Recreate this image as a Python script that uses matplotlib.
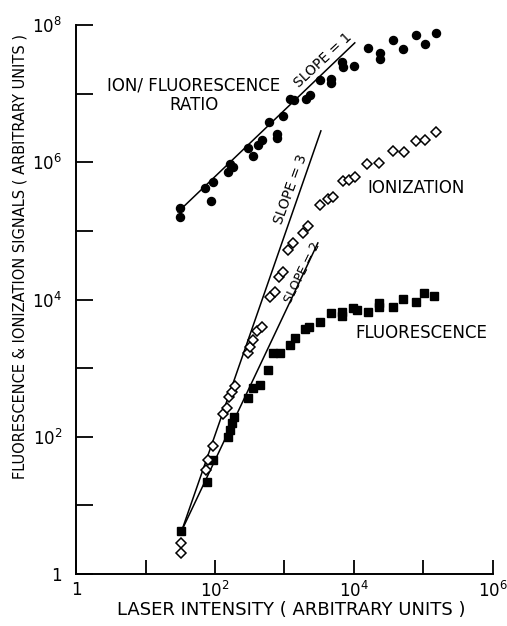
import matplotlib
matplotlib.use("Agg")
import matplotlib.pyplot as plt
import numpy as np

# Ion / fluorescence ratio (filled circles)
ratio_x = [31.4, 31.4, 71.8, 87.6, 93.6, 154, 164, 182, 298, 352, 415, 475, 598, 780, 780,
           951, 1200, 1370, 2040, 2330, 3240, 4670, 4670, 6720, 6950, 10000, 15900, 23700,
           23700, 36400, 50700, 78000, 105000, 151000]
ratio_y = [2.16e5, 1.6e5, 4.24e5, 2.74e5, 5.18e5, 7.24e5, 9.48e5, 8.57e5, 1.62e6, 1.24e6,
           1.79e6, 2.12e6, 3.88e6, 2.59e6, 2.27e6, 4.74e6, 8.4e6, 8.1e6, 8.4e6, 9.6e6,
           1.59e7, 1.64e7, 1.44e7, 2.91e7, 2.46e7, 2.54e7, 4.65e7, 3.94e7, 3.22e7, 6.09e7,
           4.5e7, 7.2e7, 5.32e7, 7.7e7]

# Ionization (open diamonds)
ion_x = [32.4, 32.4, 74.2, 79.3, 93.6, 130, 149, 159, 176, 194, 298, 319, 352, 402, 475,
         618, 730, 834, 951, 1122, 1325, 1845, 2180, 3240, 4225, 4990, 6950, 8470, 10330,
         15400, 22900, 36400, 52400, 78000, 105000, 151000]
ion_y = [2.02, 2.83, 32.8, 45.9, 73.4, 215, 263, 380, 450, 550, 1667, 2037, 2577, 3484, 3990,
         10900, 12900, 21300, 25200, 52800, 66800, 93500, 118000, 239000, 293000, 313000,
         535000, 554000, 613000, 948000, 980000, 1.47e6, 1.42e6, 2.05e6, 2.12e6, 2.77e6]

# Fluorescence (filled squares)
flu_x = [32.4, 76.7, 93.6, 154, 164, 176, 188, 298, 352, 444, 579, 683, 861, 1200, 1416,
         1972, 2253, 3240, 4670, 6720, 6720, 9670, 11040, 15900, 22900, 22900, 36400, 50700,
         78000, 101600, 141600]
flu_y = [4.24, 21.9, 45.9, 99.4, 126, 159, 194, 368, 514, 569, 942, 1667, 1667, 2178, 2754,
         3727, 3990, 4713, 6380, 5768, 6590, 7546, 7050, 6590, 8920, 7800, 7800, 10200, 9220,
         12500, 11300]

# Reference slope lines (endpoints)
slope1_x = [29.4, 10300]
slope1_y = [1.89e5, 5.5e7]
slope3_x = [33.5, 3350]
slope3_y = [4.38, 2.87e6]
slope2_x = [33.5, 3030]
slope2_y = [4.38, 6.68e4]

fig = plt.figure(figsize=(5.07, 6.26), dpi=100)
ax = fig.add_axes([0.150, 0.083, 0.822, 0.877])
ax.set_xscale("log")
ax.set_yscale("log")
ax.set_xlim(1, 1e6)
ax.set_ylim(1, 1e8)

lw = 1.1
ax.plot(slope1_x, slope1_y, color="black", lw=lw)
ax.plot(slope3_x, slope3_y, color="black", lw=lw)
ax.plot(slope2_x, slope2_y, color="black", lw=lw)

ax.plot(ratio_x, ratio_y, "o", color="black", ms=5.8, ls="none")
ax.plot(flu_x, flu_y, "s", color="black", ms=5.8, ls="none")
ax.plot(ion_x, ion_y, "D", mfc="white", mec="black", mew=1.1, ms=5.2, ls="none")

for s in ["top", "right"]:
    ax.spines[s].set_visible(False)
for s in ["left", "bottom"]:
    ax.spines[s].set_linewidth(1.4)

ax.set_xticks([10.0**k for k in range(0, 7)])
ax.set_yticks([10.0**k for k in range(0, 9)])
ax.minorticks_off()
ax.set_xticklabels(["1", "", r"$10^2$", "", r"$10^4$", "", r"$10^6$"])
ax.set_yticklabels(["1", "", r"$10^2$", "", r"$10^4$", "", r"$10^6$", "", r"$10^8$"])
ax.tick_params(direction="in", length=12, width=1.3, labelsize=12, pad=10)
ax.tick_params(axis="x", length=10, pad=5)

fig.text(0.574, 0.026, "LASER INTENSITY ( ARBITRARY UNITS )", fontsize=13,
         ha="center", va="center")
fig.text(0.04, 0.59, "FLUORESCENCE & IONIZATION SIGNALS ( ARBITRARY UNITS )",
         rotation=90, fontsize=10.5, ha="center", va="center")

tk = dict(fontsize=12, ha="center", va="center")
ax.text(50, 9.5e6, "ION/ FLUORESCENCE\nRATIO", linespacing=1.05, **tk)
ax.text(3600, 3.1e7, "SLOPE = 1", rotation=43, fontsize=10, ha="center", va="center")
ax.text(1240, 4.0e5, "SLOPE = 3", rotation=70, fontsize=10, ha="center", va="center")
ax.text(1800, 2.5e4, "SLOPE = 2", rotation=64, fontsize=9, ha="center", va="center")
ax.text(78000, 4.2e5, "IONIZATION", **tk)
ax.text(95000, 3.26e3, "FLUORESCENCE", **tk)

fig.savefig("out.png", dpi=100)
